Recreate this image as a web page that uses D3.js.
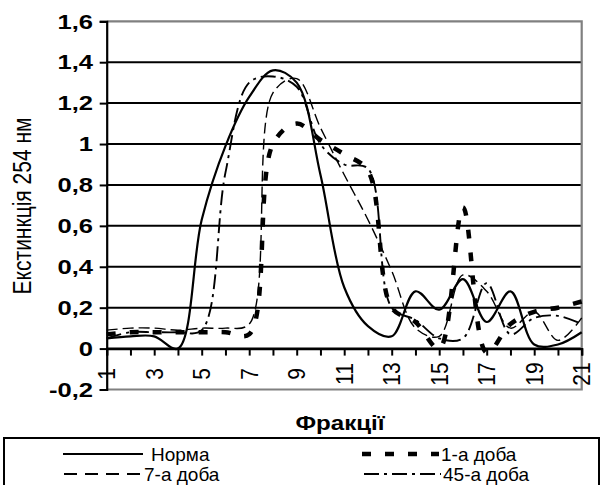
<!DOCTYPE html>
<html>
<head>
<meta charset="utf-8">
<script src="https://cdn.jsdelivr.net/npm/d3@7"></script>
<style>
  body { margin: 0; background: #fff; }
  svg { display: block; }
  text { font-family: "Liberation Sans", Arial, sans-serif; fill: #000; }
</style>
</head>
<body>
<svg id="chart" width="601" height="485"></svg>
<script>
// Fractions along the x axis
const fractions = d3.range(1, 22);

// Extinction at 254 nm for each group
const norma = [0.05, 0.06, 0.06, 0.0, 0.63, 0.99, 1.23, 1.36, 1.3, 0.85, 0.3, 0.11, 0.06, 0.28, 0.19, 0.34, 0.13, 0.28, 0.02, 0.02, 0.08];
const day1  = [0.07, 0.08, 0.08, 0.08, 0.08, 0.08, 0.07, 1.0, 1.1, 1.02, 0.95, 0.87, 0.2, 0.13, 0.0, 0.69, -0.02, 0.12, 0.18, 0.2, 0.23];
const day7  = [0.09, 0.1, 0.1, 0.09, 0.1, 0.1, 0.12, 1.25, 1.32, 1.08, 0.85, 0.63, 0.38, 0.1, 0.06, 0.36, 0.28, 0.1, 0.18, 0.04, 0.15];
const day45 = [0.05, 0.08, 0.08, 0.08, 0.09, 0.86, 1.3, 1.33, 1.28, 1.0, 0.9, 0.88, 0.2, 0.14, 0.05, 0.05, 0.32, 0.07, 0.15, 0.16, 0.12];

const seriesNames = ["Норма", "1-а доба", "7-а доба", "45-а доба"];

// Axis ticks
const yTicks = [-0.2, 0, 0.2, 0.4, 0.6, 0.8, 1, 1.2, 1.4, 1.6];
const xLabels = [1, 3, 5, 7, 9, 11, 13, 15, 17, 19, 21];

const yTitle = "Екстинкція 254 нм";
const xTitle = "Фракції";

const svg = d3.select("#chart");

const plot = { left: 106.7, right: 581.7, top: 21.3, bottom: 389.5 };

const x = d3.scalePoint().domain(fractions).range([plot.left, plot.right]).padding(0);
const y = d3.scaleLinear().domain([-0.2, 1.6]).range([plot.bottom, plot.top]);

const fmt = v => String(+v.toFixed(1)).replace(".", ",");

// Horizontal gridlines (interior ones black)
svg.append("g").selectAll("line")
  .data(yTicks.filter(v => v > -0.2 && v < 1.6))
  .join("line")
  .attr("x1", plot.left).attr("x2", plot.right)
  .attr("y1", d => y(d)).attr("y2", d => y(d))
  .attr("stroke", "#000").attr("stroke-width", 2);

// Plot area frame (grey)
svg.append("path")
  .attr("d", `M${plot.left},${plot.top}H${plot.right}V${plot.bottom}H${plot.left}`)
  .attr("fill", "none").attr("stroke", "#808080").attr("stroke-width", 2.2);

// Y axis with ticks
const yAxis = d3.axisLeft(y).tickValues(yTicks).tickSize(7).tickFormat("");
const gy = svg.append("g").attr("transform", `translate(${plot.left},0)`).call(yAxis);
gy.select(".domain").attr("stroke", "#000").attr("stroke-width", 2.2);
gy.selectAll(".tick line").attr("stroke", "#000").attr("stroke-width", 2);

// Y tick labels (bold, slightly widened)
svg.append("g").selectAll("text")
  .data(yTicks)
  .join("text")
  .attr("transform", d => `translate(93,${y(d)}) scale(1.28,1)`)
  .attr("text-anchor", "end")
  .attr("dy", "0.36em")
  .attr("font-size", 20)
  .attr("font-weight", "bold")
  .text(fmt);

// X axis at zero with category ticks
const xAxis = d3.axisBottom(x).tickSize(7).tickFormat("");
const gx = svg.append("g").attr("transform", `translate(0,${y(0)})`).call(xAxis);
gx.select(".domain").attr("stroke", "#000").attr("stroke-width", 2.2);
gx.selectAll(".tick line").attr("stroke", "#000").attr("stroke-width", 2);

// X tick labels, rotated
svg.append("g").selectAll("text")
  .data(xLabels)
  .join("text")
  .attr("transform", d => `translate(${x(d)},374) scale(1.15,1) rotate(-90)`)
  .attr("text-anchor", "middle")
  .attr("dy", "0.36em")
  .attr("font-size", 21)
  .text(d => d);

// Axis titles
svg.append("text")
  .attr("transform", `translate(31,206) scale(1.2,1) rotate(-90)`)
  .attr("text-anchor", "middle")
  .attr("font-size", 21)
  .text(yTitle);

svg.append("text")
  .attr("transform", `translate(340,430) scale(1.15,1)`)
  .attr("text-anchor", "middle")
  .attr("font-size", 21)
  .attr("font-weight", "bold")
  .text(xTitle);

// Series styles
const styles = [
  { width: 2.2, dash: null },
  { width: 4.5, dash: "9,14" },
  { width: 1.4, dash: "11,5" },
  { width: 1.9, dash: "15,5,3,5" }
];
const data = [norma, day1, day7, day45];

const line = d3.line()
  .x((d, i) => x(fractions[i]))
  .y(d => y(d))
  .curve(d3.curveCatmullRom.alpha(0.5));

svg.append("g").selectAll("path")
  .data(data)
  .join("path")
  .attr("d", d => line(d))
  .attr("fill", "none")
  .attr("stroke", "#000")
  .attr("stroke-width", (d, i) => styles[i].width)
  .attr("stroke-dasharray", (d, i) => styles[i].dash)
  .attr("stroke-linejoin", "round");

// Legend
svg.append("rect")
  .attr("x", 4).attr("y", 438).attr("width", 595).attr("height", 60)
  .attr("fill", "#fff").attr("stroke", "#000").attr("stroke-width", 2);

const legendPos = [
  { x1: 63, x2: 143, y: 454, tx: 151 },
  { x1: 362, x2: 439, y: 454, tx: 441 },
  { x1: 64, x2: 143, y: 474, tx: 144 },
  { x1: 364, x2: 441, y: 474, tx: 443 }
];

const lg = svg.append("g").selectAll("g")
  .data(seriesNames)
  .join("g");

lg.append("line")
  .attr("x1", (d, i) => legendPos[i].x1).attr("x2", (d, i) => legendPos[i].x2)
  .attr("y1", (d, i) => legendPos[i].y).attr("y2", (d, i) => legendPos[i].y)
  .attr("stroke", "#000")
  .attr("stroke-width", (d, i) => Math.max(styles[i].width, 1.8))
  .attr("stroke-dasharray", (d, i) => i === 2 ? "13,8" : styles[i].dash);

lg.append("text")
  .attr("x", (d, i) => legendPos[i].tx)
  .attr("y", (d, i) => legendPos[i].y + 7)
  .attr("font-size", 19)
  .text(d => d);
</script>
</body>
</html>
